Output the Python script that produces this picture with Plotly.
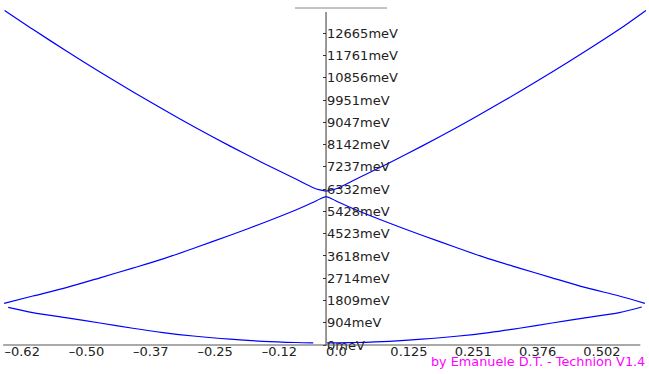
import plotly.graph_objects as go

# ---- data (k on the x axis, E in meV) ----
k_band3 = [-0.627, -0.572, -0.505, -0.441, -0.377, -0.318, -0.254, -0.187, -0.123, -0.059, -0.025, -0.012, 0.0,
           0.012, 0.025, 0.059, 0.123, 0.187, 0.254, 0.318, 0.377, 0.441, 0.505, 0.572, 0.624]
e_band3 = [13595, 12828, 11923, 11090, 10290, 9575, 8830, 8080, 7395, 6742, 6390, 6300, 6255,
           6300, 6390, 6742, 7395, 8080, 8830, 9575, 10290, 11090, 11923, 12828, 13595]

k_band2 = [-0.628, -0.572, -0.505, -0.441, -0.377, -0.318, -0.254, -0.187, -0.123, -0.059, -0.025, -0.012, 0.0,
           0.012, 0.025, 0.059, 0.123, 0.187, 0.254, 0.318, 0.377, 0.441, 0.505, 0.572, 0.622]
e_band2 = [1694, 1990, 2340, 2730, 3125, 3500, 3960, 4460, 4957, 5485, 5800, 5930, 6030,
           5930, 5800, 5485, 4957, 4460, 3960, 3500, 3125, 2730, 2340, 1990, 1694]

k_band1_left = [-0.620, -0.572, -0.505, -0.441, -0.377, -0.318, -0.254, -0.187, -0.123, -0.059, -0.025]
e_band1_left = [1530, 1315, 1100, 895, 680, 505, 355, 235, 150, 102, 90]
k_band1_right = [0.002, 0.025, 0.059, 0.123, 0.187, 0.254, 0.318, 0.377, 0.441, 0.505, 0.572, 0.616]
e_band1_right = [87, 90, 102, 150, 235, 355, 505, 680, 895, 1100, 1315, 1545]

x_tickvals = [-0.6273, -0.5018, -0.3764, -0.2509, -0.1255, 0.0, 0.1255, 0.2509, 0.3764, 0.5018]
x_ticktext = ["\u20130.62", "\u20130.50", "\u20130.37", "\u20130.25", "\u20130.12", "0.0",
              "0.125", "0.251", "0.376", "0.502"]
y_tickvals = [0, 904.6, 1809.3, 2713.9, 3618.6, 4523.2, 5427.8, 6332.5, 7237.1,
              8141.8, 9046.4, 9951.0, 10855.7, 11760.3, 12665.0]
y_ticktext = ["0meV", "904meV", "1809meV", "2714meV", "3618meV", "4523meV", "5428meV",
              "6332meV", "7237meV", "8142meV", "9047meV", "9951meV", "10856meV",
              "11761meV", "12665meV"]
credit = "by Emanuele D.T. - Technion V1.4"

W, H = 649, 374
x_range = [-0.636, 0.630]
y_range = [-1178, 14017]

fig = go.Figure()
line = dict(color="#0000ff", width=1.2, shape="spline", smoothing=0.8)
for kx, ey in [(k_band3, e_band3), (k_band2, e_band2),
               (k_band1_left, e_band1_left), (k_band1_right, e_band1_right)]:
    fig.add_trace(go.Scatter(x=kx, y=ey, mode="lines", line=line, hoverinfo="skip"))

axis_color = "#333333"
# axis lines
fig.add_shape(type="line", xref="x", yref="y", x0=-0.630, x1=0.613, y0=0, y1=0,
              line=dict(color="#555555", width=1))
fig.add_shape(type="line", xref="x", yref="y", x0=0, x1=0, y0=0, y1=13530,
              line=dict(color=axis_color, width=1))
fig.add_shape(type="line", xref="x", yref="y", x0=-0.0605, x1=0.119, y0=13692, y1=13692,
              line=dict(color="#888888", width=1))

x_pos = (0 - y_range[0]) / (y_range[1] - y_range[0])
y_pos = (0 - x_range[0]) / (x_range[1] - x_range[0])

font = dict(family="DejaVu Sans", size=13, color="#222222")
fig.update_layout(
    width=W, height=H,
    margin=dict(l=0, r=0, t=0, b=0),
    paper_bgcolor="white", plot_bgcolor="white",
    showlegend=False,
    xaxis=dict(range=x_range, anchor="free", position=x_pos, showgrid=False,
               zeroline=False, showline=False, ticks="", tickvals=x_tickvals,
               ticktext=x_ticktext, ticklabelposition="outside right",
               ticklabelstandoff=-3, tickfont=font),
    yaxis=dict(range=y_range, anchor="free", position=y_pos, side="right",
               showgrid=False, zeroline=False, showline=False, ticks="inside",
               ticklen=3, tickcolor=axis_color, tickvals=y_tickvals,
               ticktext=y_ticktext, tickfont=font),
    annotations=[dict(text=credit, xref="paper", yref="paper", x=1, y=0,
                      xanchor="right", yanchor="bottom", xshift=-2, yshift=3,
                      showarrow=False,
                      font=dict(family="DejaVu Sans", size=12.8, color="#ff00ff"))],
)

fig.write_html("out.html")
